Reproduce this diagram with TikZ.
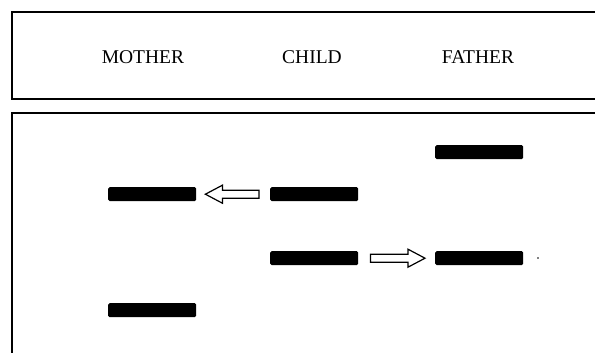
\documentclass[tikz,border=0pt]{standalone}
\usepackage{fontspec}
\setmainfont{Liberation Serif}
\usetikzlibrary{calc}
\begin{document}
\begin{tikzpicture}[x=1pt,y=-1pt,
  frame/.style={line width=1.6pt,black},
  bar/.style={fill=black,rounded corners=1.5pt,minimum width=88pt,minimum height=14pt,inner sep=0pt,anchor=north west},
  lbl/.style={font=\fontsize{19.5}{22}\selectfont,inner sep=0pt},
  blockarrow/.style={draw=black,line width=1.2pt,fill=white,line join=miter}]
\useasboundingbox (0,0) rectangle (595,353);
% frames
\draw[frame] (595,12) -- (12,12) -- (12,99) -- (595,99);
\draw[frame] (595,113) -- (12,113) -- (12,353);
% labels
\node[lbl] (mother) at (143,57) {MOTHER};
\node[lbl] (child) at (312,57) {CHILD};
\node[lbl] (father) at (478,57) {FATHER};
% bars
\node[bar] (f1) at (435,145) {};
\node[bar] (m1) at (108,187) {};
\node[bar] (c1) at (270,187) {};
\node[bar] (c2) at (270,251) {};
\node[bar] (f2) at (435,251) {};
\node[bar] (m2) at (108,303) {};
\fill (538,258) circle (0.8pt);
% left arrow (child -> mother)
\draw[blockarrow] ($(m1.east)+(9,0)$) -- ++(17,-9) -- ++(0,5) -- ($(c1.west)+(-11,-4)$) -- ++(0,8) -- ($(m1.east)+(26,4)$) -- ++(0,5) -- cycle;
% right arrow (child -> father)
\draw[blockarrow] ($(f2.west)+(-10,0)$) -- ++(-17,-9) -- ++(0,5) -- ($(c2.east)+(12,-4)$) -- ++(0,8) -- ($(f2.west)+(-27,4)$) -- ++(0,5) -- cycle;
\end{tikzpicture}
\end{document}
